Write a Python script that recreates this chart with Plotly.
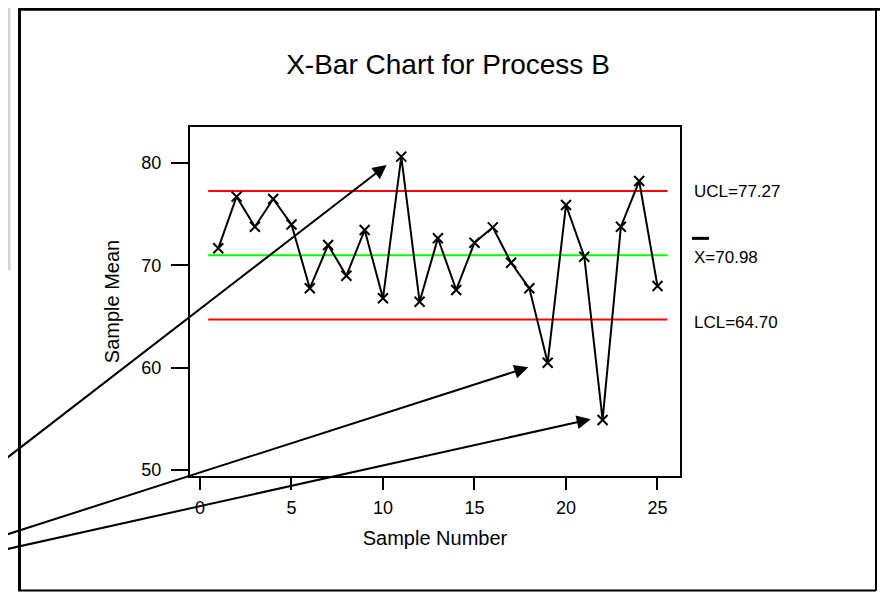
import plotly.graph_objects as go

# ---------------- data ----------------
sample_number = list(range(1, 26))
sample_mean = [71.67, 76.72, 73.78, 76.49, 74.00, 67.76, 71.99, 68.99, 73.46, 66.78,
               80.63, 66.45, 72.65, 67.60, 72.22, 73.72, 70.26, 67.76, 60.49, 75.90,
               70.85, 54.89, 73.78, 78.25, 67.98]
ucl_value = 77.27
center_value = 70.98
lcl_value = 64.70
x_tick_values = [0, 5, 10, 15, 20, 25]
y_tick_values = [50, 60, 70, 80]
limit_labels = ["UCL=77.27", "X=70.98", "LCL=64.70"]

# arrows pointing at the out-of-control samples (tip / tail in data units)
arrow_tip_x = [10.2, 17.94, 21.35]
arrow_tip_y = [79.81, 60.04, 54.96]
arrow_tail_x = [-10.93, -10.93, -10.93]
arrow_tail_y = [50.65, 43.48, 42.11]

# ---------------- layout geometry ----------------
# the page body adds an 8px offset, so the figure is 880x584 placed at (8, 8)
OX, OY = 8, 8
W, H = 880, 584
ML, MR, MT, MB = 182, 208, 119, 116
PW, PH = W - ML - MR, H - MT - MB
FONT = "Liberation Sans, Arial, Helvetica, sans-serif"


def px(x):
    """window pixel x -> paper coordinate"""
    return (x - OX - ML) / PW


def py(y):
    """window pixel y -> paper coordinate"""
    return (H - MB - (y - OY)) / PH


fig = go.Figure()

# control limit lines
x_lo = min(sample_number) - 0.55
x_hi = max(sample_number) + 0.55
for val, col in [(ucl_value, "#ff0000"), (center_value, "#00ff00"), (lcl_value, "#ff0000")]:
    fig.add_trace(go.Scatter(x=[x_lo, x_hi], y=[val, val], mode="lines",
                             line=dict(color=col, width=2), hoverinfo="skip",
                             showlegend=False))

# sample means
fig.add_trace(go.Scatter(
    x=sample_number, y=sample_mean, mode="lines+markers",
    line=dict(color="black", width=2),
    marker=dict(symbol="x-thin", size=10, color="black",
                line=dict(color="black", width=2)),
    showlegend=False, cliponaxis=False))

annotations = []
# limit labels at right
for val, txt, dy in [(ucl_value, limit_labels[0], 0), (center_value, limit_labels[1], -2),
                     (lcl_value, limit_labels[2], -3)]:
    annotations.append(dict(x=px(692), xref="paper", y=val, yref="y", yshift=dy,
                            text=txt, showarrow=False, xanchor="left", yanchor="middle",
                            font=dict(family=FONT, size=17, color="black")))

# arrows
for tx, ty, ax, ay in zip(arrow_tip_x, arrow_tip_y, arrow_tail_x, arrow_tail_y):
    annotations.append(dict(x=tx, y=ty, xref="x", yref="y", ax=ax, ay=ay,
                            axref="x", ayref="y", text="", showarrow=True,
                            arrowhead=2, arrowsize=1.4, arrowwidth=2,
                            arrowcolor="black", standoff=0))

shapes = []
# bar over the X of the centre-line label
shapes.append(dict(type="line", xref="paper", yref="y", xsizemode="pixel",
                   ysizemode="pixel", xanchor=px(692), yanchor=center_value,
                   x0=0, x1=17, y0=17, y1=17, line=dict(color="black", width=3)))
# outer frame (window pixel coordinates)
frame = [
    (19.5, 9, 19.5, 591, 3),
    (18, 9, 882.5, 9, 3.5),
    (18, 590.5, 876, 590.5, 2),
    (876, 9, 876, 590.5, 2),
    (881.5, 9, 881.5, 600, 3),
]
for x0, y0, x1, y1, w in frame:
    shapes.append(dict(type="line", xref="paper", yref="paper",
                       x0=px(x0), y0=py(y0), x1=px(x1), y1=py(y1),
                       line=dict(color="black", width=w)))
# gray strips
shapes.append(dict(type="rect", xref="paper", yref="paper", x0=px(0), x1=px(10.5),
                   y0=py(0), y1=py(270), fillcolor="#d4d4d4", line=dict(width=0),
                   layer="below"))
shapes.append(dict(type="rect", xref="paper", yref="paper", x0=px(883.5), x1=px(900),
                   y0=py(23), y1=py(600), fillcolor="#d4d4d4", line=dict(width=0),
                   layer="below"))

fig.update_layout(
    width=W, height=H, autosize=False,
    margin=dict(l=ML, r=MR, t=MT, b=MB, pad=0),
    paper_bgcolor="white", plot_bgcolor="white",
    font=dict(family=FONT, size=18, color="black"),
    title=dict(text="X-Bar Chart for Process B", x=(448 - OX) / W, xref="container",
               xanchor="center", y=1 - (64 - OY) / H, yref="container", yanchor="middle",
               font=dict(family=FONT, size=28, color="black")),
    xaxis=dict(range=[-0.546, 26.23], tickvals=x_tick_values, ticks="outside",
               ticklen=12, tickwidth=2, tickcolor="black", showline=True,
               linecolor="black", linewidth=2, mirror=True, showgrid=False,
               zeroline=False, ticklabelstandoff=2,
               tickfont=dict(family=FONT, size=18),
               title=dict(text="Sample Number", standoff=14,
                          font=dict(family=FONT, size=20))),
    yaxis=dict(range=[49.41, 83.53], tickvals=y_tick_values, ticks="outside",
               ticklen=17, tickwidth=2, tickcolor="black", showline=True,
               linecolor="black", linewidth=2, mirror=True, showgrid=False,
               zeroline=False, ticklabelstandoff=6,
               tickfont=dict(family=FONT, size=18),
               title=dict(text="Sample Mean", standoff=16,
                          font=dict(family=FONT, size=20))),
    annotations=annotations,
    shapes=shapes,
)

fig.write_html("out.html")
